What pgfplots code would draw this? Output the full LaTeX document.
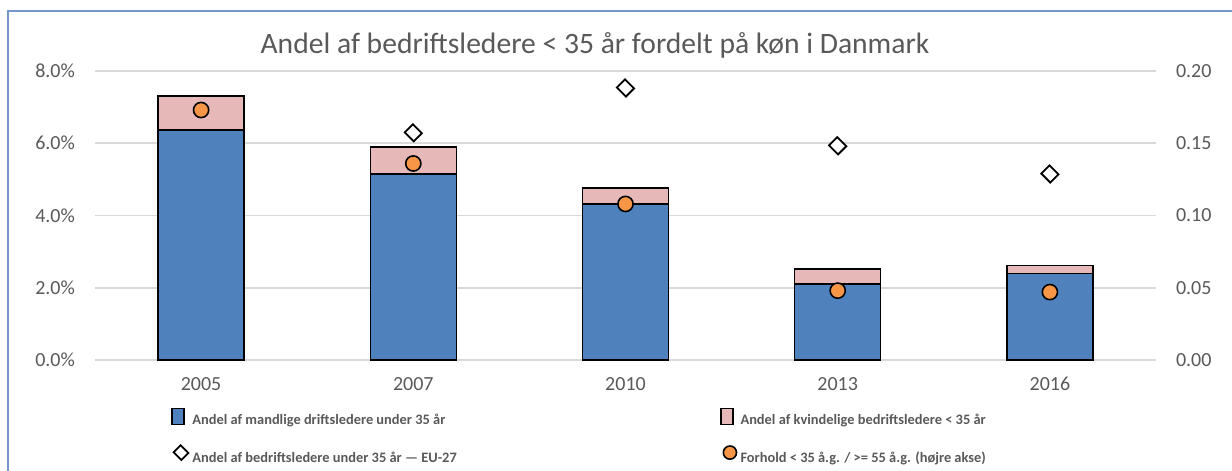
\documentclass[border=0pt]{standalone}
\usepackage{pgfplots}
\pgfplotsset{compat=1.18}
\usepackage{pgfplotstable}
\usepackage{fontspec}
\setmainfont{Carlito}

\definecolor{txt}{HTML}{595959}
\definecolor{barblue}{HTML}{4F81BD}
\definecolor{barpink}{HTML}{E6B9B8}
\definecolor{dotorange}{HTML}{F79646}
\definecolor{gridgray}{HTML}{D9D9D9}
\definecolor{frameblue}{HTML}{7397CB}

% andel i procent (venstre akse), forhold paa hoejre akse
\pgfplotstableread{
x male female ratio
0 6.37 0.94 0.173
1 5.15 0.75 0.136
2 4.32 0.44 0.108
3 2.10 0.42 0.048
4 2.40 0.21 0.047
}\ledere

\pgfplotsset{
  common/.style={
    at={(47.5pt,55.5pt)}, anchor=south west,
    scale only axis, width=530.5pt, height=144.5pt,
    xmin=-0.5, xmax=4.5,
    axis line style={draw=none},
    major tick length=0pt,
    tick label style={font=\fontsize{10}{12}\selectfont, text=txt},
    /pgf/number format/assume math mode=true,
  },
  dotlegend/.style={legend image code/.code={\draw plot coordinates {(0.05cm,0.3em)};}},
  eumark/.style={mark=square*, mark size=2.9pt,
    mark options={rotate=45, yscale=1.1, fill=white, draw=black, line width=0.9pt}},
}

\begin{document}
\begin{tikzpicture}
\useasboundingbox (0,0) rectangle (616pt,235.5pt);
\draw[frameblue, line width=0.8pt] (4pt,0pt) -- (4pt,230pt) -- (616pt,230pt);

\begin{axis}[
  common,
  ymin=0, ymax=8,
  ytick={0,2,4,6,8},
  yticklabel={\pgfmathprintnumber[fixed,fixed zerofill,precision=1]{\tick}\%},
  yticklabel style={xshift=-6.5pt},
  xtick={0,1,2,3,4},
  xticklabels={2005,2007,2010,2013,2016},
  xticklabel style={yshift=-5pt},
  ymajorgrids, grid style={gridgray, line width=0.8pt},
  ybar stacked, bar width=43pt,
  legend columns=2,
  legend cell align=left,
  legend style={
    at={(0.066,-0.15)}, anchor=north west, draw=none, fill=none,
    font=\fontsize{7.2}{8.6}\selectfont\bfseries, text=txt,
    row sep=7pt,
    /tikz/every even column/.append style={column sep=0pt},
  },
]
\addplot[fill=barblue, draw=black, line width=0.7pt] table[x=x, y=male] {\ledere};
\addlegendentry{\makebox[262pt][l]{Andel af mandlige driftsledere under 35 år}}
\addplot[fill=barpink, draw=black, line width=0.7pt] table[x=x, y=female] {\ledere};
\addlegendentry{Andel af kvindelige bedriftsledere < 35 år}
\addlegendimage{only marks, eumark, mark size=2.5pt, dotlegend}
\addlegendentry{\makebox[262pt][l]{Andel af bedriftsledere under 35 år — EU-27}}
\addlegendimage{only marks, mark=*, mark size=3.3pt, mark options={fill=dotorange, draw=black, line width=0.8pt}, dotlegend}
\addlegendentry{Forhold < 35 å.g. / >= 55 å.g. (højre akse)}
\end{axis}

% EU-27 paa venstre akse, uden stabling
\begin{axis}[
  common,
  ymin=0, ymax=8,
  xtick=\empty, ytick=\empty,
]
\addplot[only marks, eumark]
  coordinates {(1,6.29) (2,7.53) (3,5.93) (4,5.15)};
\end{axis}

\begin{axis}[
  common,
  ymin=0, ymax=0.2,
  ytick={0,0.05,0.1,0.15,0.2},
  yticklabel pos=right,
  yticklabel style={xshift=6.5pt, /pgf/number format/.cd, fixed, fixed zerofill, precision=2},
  xtick=\empty,
]
\addplot[only marks, mark=*, mark size=3.8pt,
  mark options={fill=dotorange, draw=black, line width=0.8pt}]
  table[x=x, y=ratio] {\ledere};
\end{axis}

\node[text=txt, font=\fontsize{14.8}{17}\selectfont] at (297.5pt,213pt)
  {Andel af bedriftsledere < 35 år fordelt på køn i Danmark};
\end{tikzpicture}
\end{document}
